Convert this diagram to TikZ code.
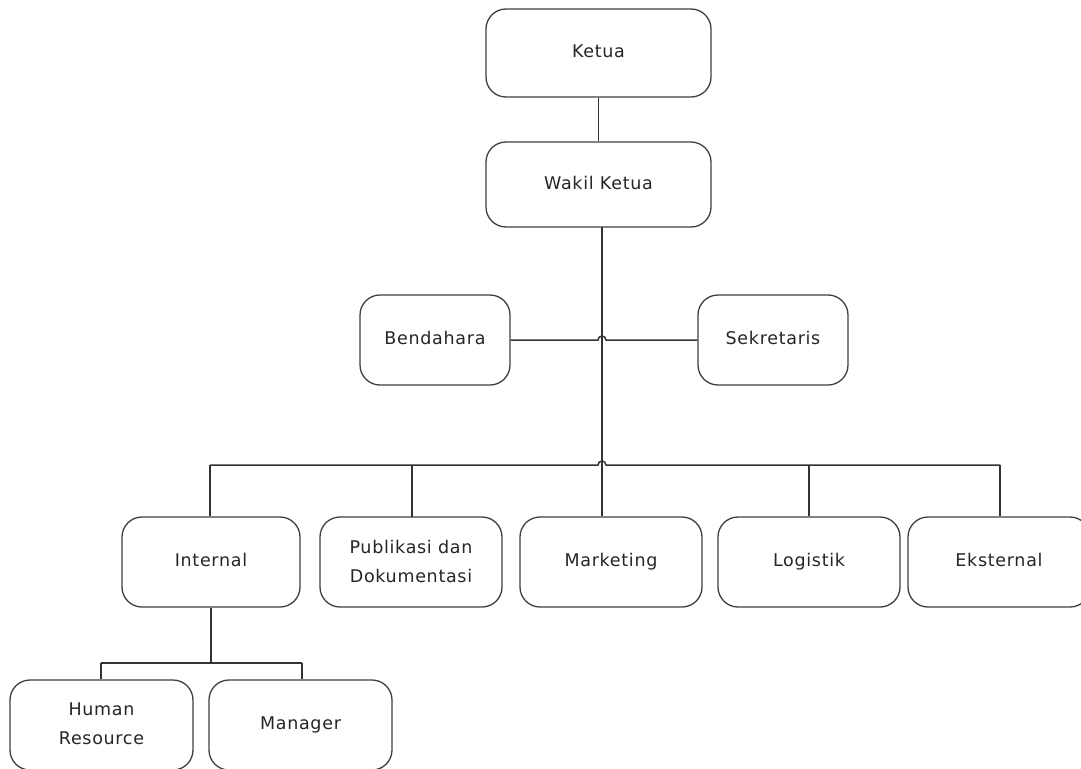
\documentclass[tikz,border=0pt]{standalone}
\usepackage{fontspec}
\setmainfont{DejaVu Sans}[LetterSpace=4]
\begin{document}
\begin{tikzpicture}[x=1pt,y=-1pt,
  box/.style={draw=black!75,line width=1.3pt,rounded corners=20pt,align=center,
    minimum width=182pt,minimum height=90pt,inner sep=0pt,text=black!85,
    font=\fontsize{17.5}{29}\selectfont},
  one/.style={box,text height=13pt,text depth=4pt},
  two/.style={box,text depth=2pt},
  wire/.style={draw=black!80,line width=1.5pt}]
\clip (0,0) rectangle (1081,768);
\fill[white] (0,0) rectangle (1081,768);
\node[one,minimum width=225pt,minimum height=88pt] (ketua) at (598.5,53) {Ketua};
\node[one,minimum width=225pt,minimum height=85pt] (wakil) at (598.5,184.5) {Wakil Ketua};
\node[one,minimum width=150pt] (bend) at (435,340) {Bendahara};
\node[one,minimum width=150pt] (sekr) at (773,340) {Sekretaris};
\node[one,minimum width=178pt] (internal) at (211,562) {Internal};
\node[two] (publ) at (411,562) {Publikasi dan\\Dokumentasi};
\node[one] (mark) at (611,562) {Marketing};
\node[one] (logi) at (809,562) {Logistik};
\node[one] (ekst) at (999,562) {Eksternal};
\node[two,minimum width=183pt] (hr) at (101.5,725) {Human\\Resource};
\node[one,minimum width=183pt] (mgr) at (300.5,725) {Manager};
% coordinates
\coordinate (t1) at (602,227);
\coordinate (hopA) at (602,340);
\coordinate (hopB) at (602,465);
\coordinate (busL) at (210,465);
\coordinate (busR) at (1000,465);
\coordinate (subL) at (101,663);
\coordinate (subR) at (302,663);
% connectors
\draw[wire] (ketua.south) -- (wakil.north);
\draw[wire] (t1) -- (t1 |- mark.north);
\draw[wire] (bend.east) -- ([xshift=-4pt]hopA) arc[start angle=180,end angle=0,radius=4pt] -- (sekr.west);
\draw[wire] (busL) -- ([xshift=-4pt]hopB) arc[start angle=180,end angle=0,radius=4pt] -- (busR);
\draw[wire] (busL) -- (busL |- internal.north);
\draw[wire] (412,465) -- (412,517);
\draw[wire] (809,465) -- (logi.north);
\draw[wire] (busR) -- (busR |- ekst.north);
\draw[wire] (internal.south) -- (internal.south |- subL);
\draw[wire] (subL) -- (subR);
\draw[wire] (subL) -- (subL |- hr.north);
\draw[wire] (subR) -- (subR |- mgr.north);
\end{tikzpicture}
\end{document}
